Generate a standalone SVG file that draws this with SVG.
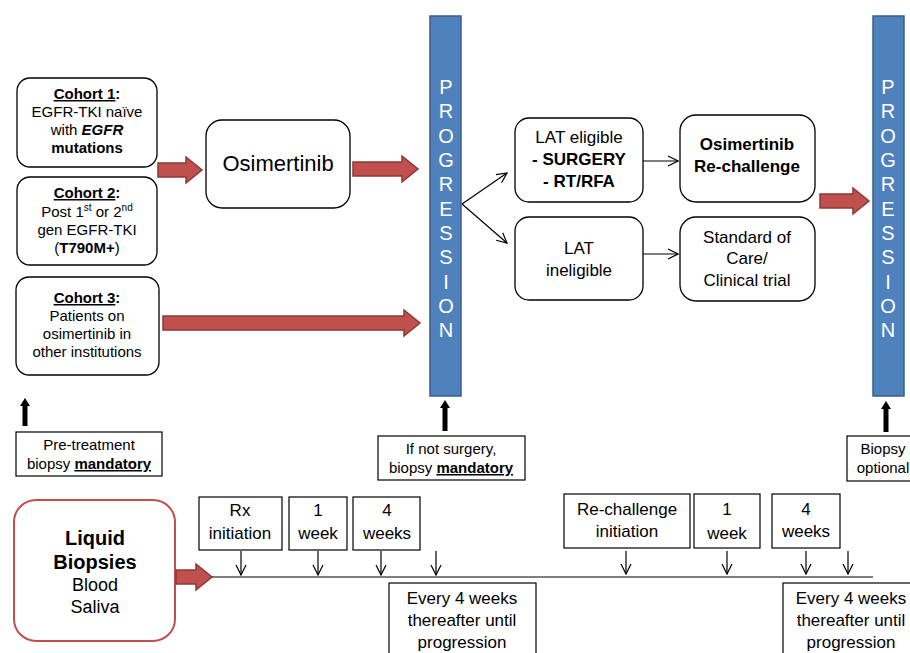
<svg xmlns="http://www.w3.org/2000/svg" width="910" height="653" viewBox="0 0 910 653">
<style>
.box{fill:#fff;stroke:#000;stroke-width:1.3}
.sq{fill:#fff;stroke:#000;stroke-width:1.2}
.t{font-family:"Liberation Sans",Arial,Helvetica,sans-serif;text-anchor:middle;fill:#000}
.c{font-size:15px}
.m{font-size:17px}
.b{font-weight:bold}
.u{text-decoration:underline}
.bar{fill:#4f81bd;stroke:#385d8a;stroke-width:1.5}
.pl{font-family:"Liberation Sans",Arial,sans-serif;font-size:20px;fill:#fff;text-anchor:middle}
.red{fill:#c0504d;stroke:#8c3836;stroke-width:1.5}
.thin{stroke:#000;stroke-width:1.2;fill:none}
.blk{fill:#000}
</style>
<defs>
<marker id="oa" viewBox="0 0 12 12" refX="11" refY="6" markerWidth="12" markerHeight="12" markerUnits="userSpaceOnUse" orient="auto">
<path d="M1,1 L11,6 L1,11" fill="none" stroke="#000" stroke-width="1.2"/>
</marker>
</defs>

<g id="cohort1">
<rect class="box" x="17" y="78" width="140" height="89" rx="13"/>
<text class="t c" x="87" y="99"><tspan class="b u">Cohort 1</tspan><tspan class="b">:</tspan></text>
<text class="t c" x="87" y="117">EGFR-TKI naïve</text>
<text class="t c" x="87" y="135">with <tspan class="b" font-style="italic">EGFR</tspan></text>
<text class="t c b" x="87" y="153">mutations</text>
</g>
<g id="cohort2">
<rect class="box" x="17" y="177" width="140" height="88" rx="13"/>
<text class="t c" x="87" y="198"><tspan class="b u">Cohort 2</tspan><tspan class="b">:</tspan></text>
<text class="t c" x="87" y="217">Post 1<tspan font-size="10" dy="-6">st</tspan><tspan dy="6"> or 2</tspan><tspan font-size="10" dy="-6">nd</tspan></text>
<text class="t c" x="87" y="235">gen EGFR-TKI</text>
<text class="t c" x="87" y="253">(<tspan class="b">T790M+</tspan>)</text>
</g>
<g id="cohort3">
<rect class="box" x="16" y="277" width="143" height="98" rx="13"/>
<text class="t c" x="87" y="303"><tspan class="b u">Cohort 3</tspan><tspan class="b">:</tspan></text>
<text class="t c" x="87" y="321">Patients on</text>
<text class="t c" x="87" y="339">osimertinib in</text>
<text class="t c" x="87" y="357">other institutions</text>
</g>
<g id="osimertinib">
<rect class="box" x="206" y="120" width="144" height="88" rx="16"/>
<text class="t" x="278" y="171" font-size="22">Osimertinib</text>
</g>
<g id="progression1">
<rect class="bar" x="430" y="16" width="31" height="380"/>
<text class="pl" x="446" y="94">P</text>
<text class="pl" x="446" y="118">R</text>
<text class="pl" x="446" y="143">O</text>
<text class="pl" x="446" y="167">G</text>
<text class="pl" x="446" y="191">R</text>
<text class="pl" x="446" y="216">E</text>
<text class="pl" x="446" y="240">S</text>
<text class="pl" x="446" y="264">S</text>
<text class="pl" x="446" y="289">I</text>
<text class="pl" x="446" y="313">O</text>
<text class="pl" x="446" y="337">N</text>
</g>
<g id="lat-eligible">
<rect class="box" x="515" y="118" width="128" height="84" rx="14"/>
<text class="t m" x="579" y="143">LAT eligible</text>
<text class="t m b" x="579" y="165">- SURGERY</text>
<text class="t m b" x="579" y="187">- RT/RFA</text>
</g>
<g id="lat-ineligible">
<rect class="box" x="515" y="217" width="128" height="83" rx="14"/>
<text class="t m" x="579" y="254">LAT</text>
<text class="t m" x="579" y="276">ineligible</text>
</g>
<g id="rechallenge">
<rect class="box" x="680" y="115" width="135" height="87" rx="16"/>
<text class="t m b" x="747" y="150">Osimertinib</text>
<text class="t m b" x="747" y="172">Re-challenge</text>
</g>
<g id="standard">
<rect class="box" x="680" y="217" width="135" height="84" rx="16"/>
<text class="t m" x="747" y="243">Standard of</text>
<text class="t m" x="747" y="264">Care/</text>
<text class="t m" x="747" y="286">Clinical trial</text>
</g>
<g id="progression2">
<rect class="bar" x="873" y="16" width="31" height="380"/>
<text class="pl" x="888" y="94">P</text>
<text class="pl" x="888" y="118">R</text>
<text class="pl" x="888" y="143">O</text>
<text class="pl" x="888" y="167">G</text>
<text class="pl" x="888" y="191">R</text>
<text class="pl" x="888" y="216">E</text>
<text class="pl" x="888" y="240">S</text>
<text class="pl" x="888" y="264">S</text>
<text class="pl" x="888" y="289">I</text>
<text class="pl" x="888" y="313">O</text>
<text class="pl" x="888" y="337">N</text>
</g>
<g id="pretreatment">
<rect class="sq" x="16" y="432" width="146" height="44"/>
<text class="t c" x="89" y="450">Pre-treatment</text>
<text class="t c" x="89" y="469">biopsy <tspan class="b u">mandatory</tspan></text>
</g>
<g id="ifnotsurgery">
<rect class="sq" x="378" y="436" width="147" height="44"/>
<text class="t c" x="451" y="454">If not surgery,</text>
<text class="t c" x="451" y="473">biopsy <tspan class="b u">mandatory</tspan></text>
</g>
<g id="biopsyoptional">
<rect class="sq" x="847" y="436" width="70" height="45"/>
<text class="t c" x="883" y="454">Biopsy</text>
<text class="t c" x="883" y="473">optional</text>
</g>
<g id="liquid">
<rect x="14" y="500" width="161" height="141" rx="22" fill="#fff" stroke="#c0504d" stroke-width="2"/>
<text class="t b" x="95" y="545" font-size="20">Liquid</text>
<text class="t b" x="95" y="569" font-size="20">Biopsies</text>
<text class="t" x="95" y="591" font-size="18">Blood</text>
<text class="t" x="95" y="613" font-size="18">Saliva</text>
</g>
<g id="rx">
<rect class="sq" x="199" y="497" width="83" height="53"/>
<text class="t m" x="240" y="516">Rx</text>
<text class="t m" x="240" y="539">initiation</text>
</g>
<g id="w1a">
<rect class="sq" x="289" y="497" width="58" height="53"/>
<text class="t m" x="318" y="516">1</text>
<text class="t m" x="318" y="539">week</text>
</g>
<g id="w4a">
<rect class="sq" x="353" y="497" width="67" height="53"/>
<text class="t m" x="387" y="516">4</text>
<text class="t m" x="387" y="539">weeks</text>
</g>
<g id="every1">
<rect class="sq" x="389" y="583" width="147" height="80"/>
<text class="t m" x="462" y="604">Every 4 weeks</text>
<text class="t m" x="462" y="626">thereafter until</text>
<text class="t m" x="462" y="648">progression</text>
</g>
<g id="rechal-init">
<rect class="sq" x="564" y="494" width="126" height="54"/>
<text class="t m" x="627" y="515">Re-challenge</text>
<text class="t m" x="627" y="537">initiation</text>
</g>
<g id="w1b">
<rect class="sq" x="694" y="494" width="66" height="54"/>
<text class="t m" x="727" y="515">1</text>
<text class="t m" x="727" y="539">week</text>
</g>
<g id="w4b">
<rect class="sq" x="772" y="494" width="68" height="54"/>
<text class="t m" x="806" y="515">4</text>
<text class="t m" x="806" y="537">weeks</text>
</g>
<g id="every2">
<rect class="sq" x="783" y="583" width="140" height="80"/>
<text class="t m" x="851" y="604">Every 4 weeks</text>
<text class="t m" x="851" y="626">thereafter until</text>
<text class="t m" x="851" y="648">progression</text>
</g>

<g id="connectors">
<path class="red" d="M158,163 H186 V157 L202,170 L186,183 V177 H158 Z"/>
<path class="red" d="M353,162 H402 V156 L418,169 L402,182 V176 H353 Z"/>
<path class="red" d="M163,316 H404 V310 L420,323 L404,336 V330 H163 Z"/>
<path class="red" d="M820,194 H853 V188 L869,201 L853,214 V208 H820 Z"/>
<path class="red" d="M176,570 H196 V564 L212,577 L196,590 V584 H176 Z"/>
<path class="thin" d="M462,204 L507,173" marker-end="url(#oa)"/>
<path class="thin" d="M462,204 L507,243" marker-end="url(#oa)"/>
<path class="thin" d="M643,161 L678,161" marker-end="url(#oa)"/>
<path class="thin" d="M643,254 L678,254" marker-end="url(#oa)"/>
<path class="blk" d="M22.5,426 V406 H20 L25,398 L30,406 H27.5 V426 Z"/>
<path class="blk" d="M442.5,431 V408 H440 L445,400 L450,408 H447.5 V431 Z"/>
<path class="blk" d="M883.5,432 V409 H881 L886,401 L891,409 H888.5 V432 Z"/>
<line x1="212" y1="577" x2="873" y2="577" stroke="#000" stroke-width="1.2"/>
<path class="thin" d="M241,551 V575" marker-end="url(#oa)"/>
<path class="thin" d="M318,551 V575" marker-end="url(#oa)"/>
<path class="thin" d="M381,551 V575" marker-end="url(#oa)"/>
<path class="thin" d="M436,551 V575" marker-end="url(#oa)"/>
<path class="thin" d="M626,551 V574" marker-end="url(#oa)"/>
<path class="thin" d="M727,551 V574" marker-end="url(#oa)"/>
<path class="thin" d="M806,551 V574" marker-end="url(#oa)"/>
<path class="thin" d="M848,551 V574" marker-end="url(#oa)"/>
</g>
</svg>
